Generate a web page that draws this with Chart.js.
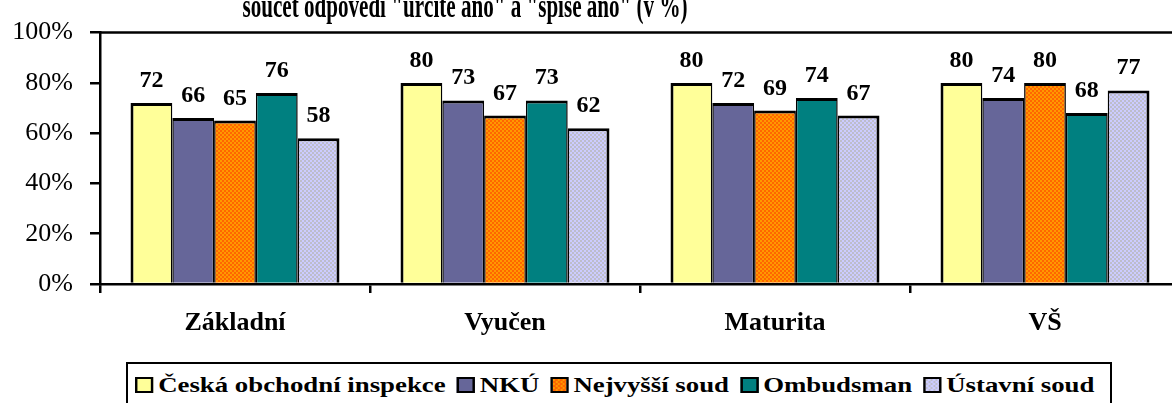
<!DOCTYPE html>
<html>
<head>
<meta charset="utf-8">
<script src="https://cdn.jsdelivr.net/npm/chart.js@4/dist/chart.umd.min.js"></script>
<style>
    html, body { margin: 0; padding: 0; background: #fff; width: 1172px; height: 403px; overflow: hidden; }
    #wrap { position: relative; width: 1172px; height: 403px; overflow: hidden; }
    #c { position: absolute; left: 0; top: 0; }
    #legend {
        position: absolute; left: 126px; top: 362px; width: 986px; height: 60px;
        border: 2px solid #000; box-sizing: border-box; background: #fff;
    }
    #legend .row {
        position: absolute; left: 7px; top: 10px; display: flex; align-items: center;
        white-space: nowrap; transform-origin: 0 50%;
        font: bold 22px "Liberation Serif", "Times New Roman", serif; line-height: 22px; color: #000;
    }
    #legend .sw { width: 11px; height: 12px; border: 2px solid #000; margin-right: 4px; }
    #legend .item { display: flex; align-items: center; margin-right: 9px; }
</style>
</head>
<body>
<div id="wrap">
    <canvas id="c" width="1190" height="403"></canvas>
    <div id="legend"><div class="row" id="legendRow"></div></div>
</div>
<script>
const title = 'součet odpovědí "určitě ano" a "spíše ano" (v %)';
const categories = ['Základní', 'Vyučen', 'Maturita', 'VŠ'];
const seriesNames = ['Česká obchodní inspekce', 'NKÚ', 'Nejvyšší soud', 'Ombudsman', 'Ústavní soud'];
const coi = [72, 80, 80, 80];
const nku = [66, 73, 72, 74];
const nejvyssi = [65, 67, 69, 80];
const ombudsman = [76, 73, 74, 68];
const ustavni = [58, 62, 67, 77];
const yTicks = [0, 20, 40, 60, 80, 100];

const serif = '"Liberation Serif", "Times New Roman", serif';
const canvas = document.getElementById('c');
const ctx = canvas.getContext('2d');

function checker(c1, c2) {
    const p = document.createElement('canvas');
    p.width = 4; p.height = 4;
    const g = p.getContext('2d');
    g.fillStyle = c1; g.fillRect(0, 0, 4, 4);
    g.fillStyle = c2; g.fillRect(0, 0, 2, 2); g.fillRect(2, 2, 2, 2);
    return ctx.createPattern(p, 'repeat');
}

const fills = [
    '#FFFF99',
    '#666699',
    checker('#FF6600', '#FF9900'),
    '#008080',
    checker('#CCCCFF', '#BDBDCC')
];
const swatchCss = [
    '#FFFF99',
    '#666699',
    'repeating-conic-gradient(#FF6600 0 25%, #FF9900 0 50%) 0 0 / 4px 4px',
    '#008080',
    'repeating-conic-gradient(#CCCCFF 0 25%, #BDBDCC 0 50%) 0 0 / 4px 4px'
];
const values = [coi, nku, nejvyssi, ombudsman, ustavni];

const datasets = values.map((v, i) => ({
    label: seriesNames[i],
    data: v,
    backgroundColor: fills[i],
    borderColor: '#000',
    borderWidth: { top: 3, bottom: 0, left: i === 0 ? 3 : 1.5, right: i === 4 ? 3 : 1.5 },
    borderSkipped: false,
    categoryPercentage: 0.774,
    barPercentage: 1
}));

const valueLabels = {
    id: 'valueLabels',
    afterDatasetsDraw(chart) {
        const c = chart.ctx;
        c.save();
        c.font = 'bold 24px ' + serif;
        c.fillStyle = '#000';
        c.textAlign = 'center';
        c.textBaseline = 'alphabetic';
        chart.data.datasets.forEach((ds, i) => {
            chart.getDatasetMeta(i).data.forEach((bar, j) => {
                c.fillText(ds.data[j], bar.x, bar.y - 16);
            });
        });
        c.restore();
    }
};

const frame = {
    id: 'frame',
    afterDraw(chart) {
        const c = chart.ctx, a = chart.chartArea;
        c.save();
        c.strokeStyle = '#000';
        c.lineWidth = 2.5;
        c.beginPath();
        c.moveTo(a.left - 1, a.top);
        c.lineTo(a.right, a.top);
        c.stroke();
        // title, squeezed like the original
        c.font = 'bold 34px ' + serif;
        c.fillStyle = '#000';
        c.textAlign = 'center';
        c.textBaseline = 'alphabetic';
        c.translate(465, 17);
        c.scale(0.62, 1);
        c.fillText(title, 0, 0);
        c.restore();
    }
};

new Chart(canvas, {
    type: 'bar',
    data: { labels: categories, datasets: datasets },
    options: {
        responsive: false,
        animation: false,
        layout: { padding: { top: 26, right: 10, left: 0, bottom: 0 } },
        scales: {
            x: {
                grid: { display: true, drawOnChartArea: false, drawTicks: true, tickLength: 9, color: '#000', lineWidth: 2.5, offset: true },
                border: { display: true, color: '#000', width: 2.5 },
                ticks: { color: '#000', padding: 15, font: { family: serif, size: 26, weight: 'bold' }, maxRotation: 0 },
                afterFit(scale) { scale.height = 119; }
            },
            y: {
                min: 0,
                max: 100,
                afterBuildTicks(scale) { scale.ticks = yTicks.map(v => ({ value: v })); },
                grid: { display: true, drawOnChartArea: false, drawTicks: true, tickLength: 10, color: '#000', lineWidth: 2.5 },
                border: { display: true, color: '#000', width: 2.5 },
                ticks: { color: '#000', padding: 17, font: { family: serif, size: 26 }, callback: v => v + '%' },
                afterFit(scale) { scale.width = 100; }
            }
        },
        plugins: {
            legend: { display: false },
            title: { display: false },
            tooltip: { enabled: false }
        }
    },
    plugins: [valueLabels, frame]
});

// legend in a framed box below the chart
const row = document.getElementById('legendRow');
seriesNames.forEach((name, i) => {
    const item = document.createElement('span');
    item.className = 'item';
    item.innerHTML = `<span class="sw" style="background:${swatchCss[i]}"></span><span>${name}</span>`;
    if (i === seriesNames.length - 1) item.style.marginRight = '0';
    row.appendChild(item);
});
const s = (1095 - 135) / row.offsetWidth;
row.style.transform = `scaleX(${s})`;
</script>
</body>
</html>
